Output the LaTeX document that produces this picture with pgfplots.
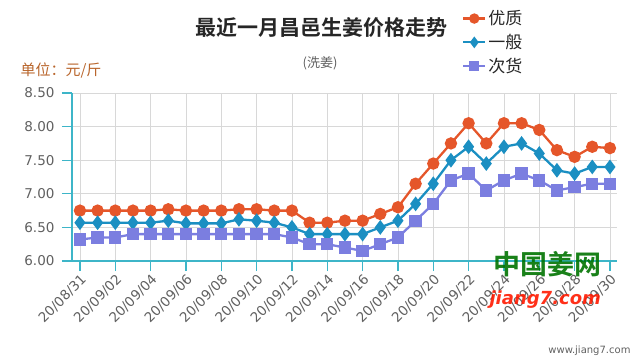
\documentclass[border=0pt]{standalone}
\usepackage{pgfplots}
\pgfplotsset{compat=1.18}
\usepackage{fontspec}
\setmainfont{DejaVu Sans}
\newfontfamily\cjk{Noto Sans CJK SC}
\newfontfamily\cjkb{Noto Sans CJK SC Bold}
\definecolor{cOr}{HTML}{E5562A}
\definecolor{cBl}{HTML}{1B8FC2}
\definecolor{cPu}{HTML}{7B7EE0}
\definecolor{cTeal}{HTML}{3DB5C8}
\definecolor{cGrid}{HTML}{D8D8D8}
\definecolor{cTxt}{HTML}{606060}
\definecolor{cUnit}{HTML}{B8642A}
\begin{document}
\begin{tikzpicture}[x=1pt,y=1pt]
\path[use as bounding box] (0,0) rectangle (640,360);
\begin{axis}[
  at={(72pt,99pt)}, anchor=south west,
  scale only axis, width=545pt, height=168pt,
  xmin=-0.45, xmax=30.4, ymin=6, ymax=8.5,
  xtick={0,2,...,30},
  xticklabels={20/08/31,20/09/02,20/09/04,20/09/06,20/09/08,20/09/10,20/09/12,20/09/14,20/09/16,20/09/18,20/09/20,20/09/22,20/09/24,20/09/26,20/09/28,20/09/30},
  xticklabel style={rotate=45, anchor=north east, font=\fontsize{13.5}{15}\selectfont, text=cTxt, inner sep=1.5pt},
  ytick={6,6.5,...,8.5},
  yticklabel style={/pgf/number format/.cd, fixed, fixed zerofill, precision=2, /tikz/.cd, font=\fontsize{13.5}{15}\selectfont, text=cTxt, xshift=-4pt},
  /pgf/number format/assume math mode=true,
  axis x line*=bottom, axis y line*=left,
  axis line style={cTeal, line width=1.2pt, -},
  tick style={cTeal, line width=1.2pt},
  tick align=outside,
  major tick length=10pt,
  grid=major, grid style={cGrid, line width=0.8pt},
  clip=false,
  legend style={at={(axis description cs:0.71,1.515)}, anchor=north west, draw=none, fill=none,
    font=\cjk\fontsize{17}{19}\selectfont, text=black!85, row sep=4pt,
    /tikz/every even column/.append style={column sep=2pt}},
  legend image code/.code={\draw[#1] (0pt,0pt) -- (22pt,0pt); \draw[#1, only marks, mark size=4pt] plot coordinates {(11pt,0pt)};},
  every axis plot/.append style={line width=2.3pt},
]
\addplot[cOr, mark=*, mark size=5pt] coordinates {
(0,6.75)(1,6.75)(2,6.75)(3,6.75)(4,6.75)(5,6.77)(6,6.75)(7,6.75)(8,6.75)(9,6.77)
(10,6.77)(11,6.75)(12,6.75)(13,6.57)(14,6.57)(15,6.60)(16,6.60)(17,6.70)(18,6.80)(19,7.15)
(20,7.45)(21,7.75)(22,8.05)(23,7.75)(24,8.05)(25,8.05)(26,7.95)(27,7.65)(28,7.55)(29,7.70)(30,7.68)};
\addlegendentry{优质}
\addplot[cBl, mark=diamond*, mark size=5.5pt] coordinates {
(0,6.57)(1,6.57)(2,6.57)(3,6.57)(4,6.57)(5,6.60)(6,6.56)(7,6.56)(8,6.56)(9,6.62)
(10,6.60)(11,6.57)(12,6.50)(13,6.40)(14,6.40)(15,6.40)(16,6.40)(17,6.50)(18,6.60)(19,6.85)
(20,7.15)(21,7.50)(22,7.70)(23,7.45)(24,7.70)(25,7.75)(26,7.60)(27,7.35)(28,7.30)(29,7.40)(30,7.40)};
\addlegendentry{一般}
\addplot[cPu, mark=square*, mark size=5pt] coordinates {
(0,6.32)(1,6.35)(2,6.35)(3,6.40)(4,6.40)(5,6.40)(6,6.40)(7,6.40)(8,6.40)(9,6.40)
(10,6.40)(11,6.40)(12,6.35)(13,6.25)(14,6.25)(15,6.20)(16,6.15)(17,6.25)(18,6.35)(19,6.60)
(20,6.85)(21,7.20)(22,7.30)(23,7.05)(24,7.20)(25,7.30)(26,7.20)(27,7.05)(28,7.10)(29,7.15)(30,7.15)};
\addlegendentry{次货}
\end{axis}
\node[font=\cjkb\fontsize{21}{23}\selectfont, text=black!85] at (321,332) {最近一月昌邑生姜价格走势};
\node[font=\cjk\fontsize{13}{15}\selectfont, text=cTxt] at (320,297) {(洗姜)};
\node[font=\cjk\fontsize{15}{17}\selectfont, text=cUnit, anchor=west] at (17,290) {单位：元/斤};
\node[font=\cjkb\fontsize{27}{29}\selectfont, text=green!45!black, anchor=west, text opacity=0.9] at (490,96) {中国姜网};
\node[font=\bfseries\itshape\fontsize{18}{20}\selectfont, text=red!80!orange, anchor=west, text opacity=0.9] at (486,60) {jiang7.com};
\node[font=\fontsize{10}{12}\selectfont, text=cTxt, anchor=east] at (634,9) {www.jiang7.com};
\end{tikzpicture}
\end{document}
